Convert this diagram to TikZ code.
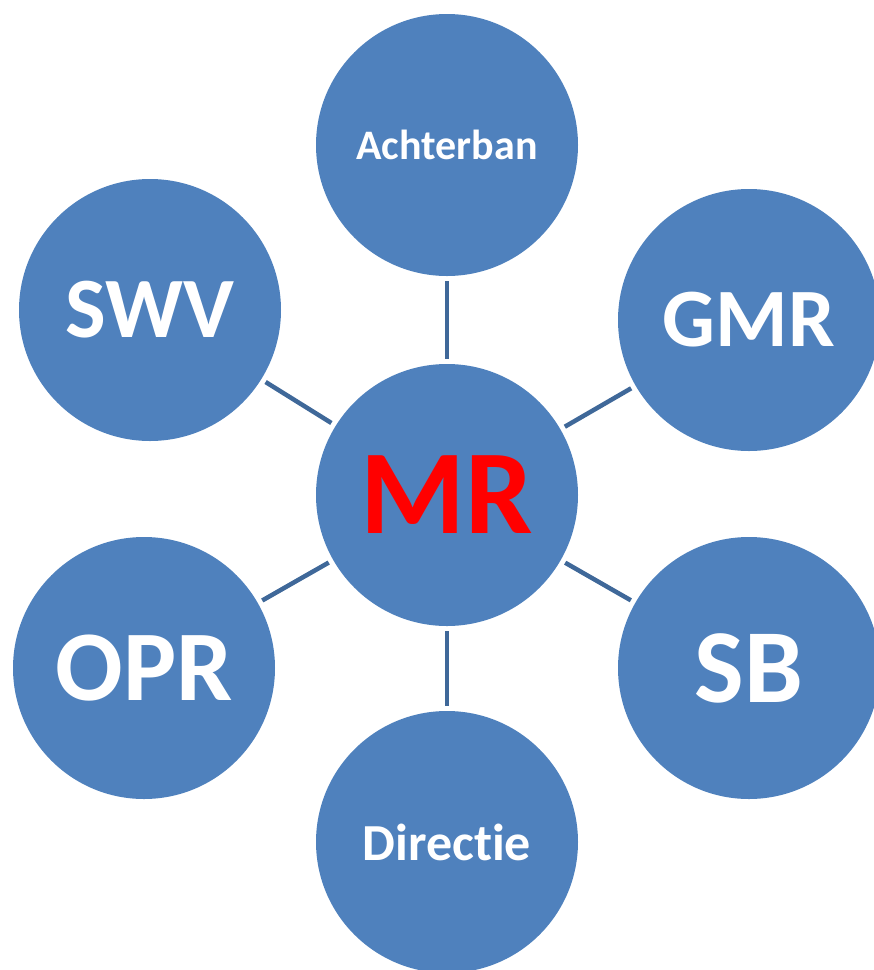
\documentclass[tikz,border=0pt]{standalone}
\usepackage{fontspec}
\setmainfont{Carlito}[Ligatures=NoCommon]
\definecolor{circfill}{HTML}{4F81BD}
\definecolor{linkcol}{HTML}{3F6899}
\definecolor{mrred}{HTML}{FF0000}
\begin{document}
\begin{tikzpicture}[x=1pt,y=-1pt,
  bubble/.style={circle,fill=circfill,draw=none,minimum size=262pt,inner sep=0pt,text=white,font=\bfseries\fontsize{83}{83}\selectfont},
  link/.style={draw=linkcol,line width=4.5pt,shorten <=5pt,shorten >=5pt}]
\useasboundingbox (0,0) rectangle (874,970);
\node[bubble] (mr) at (447,495) {\textcolor{mrred}{\fontsize{120}{120}\selectfont MR}};
\node[bubble,font=\bfseries\fontsize{42}{42}\selectfont] (ach) at (447,145) {Achterban};
\node[bubble] (gmr) at (749,320) {GMR};
\node[bubble,font=\bfseries\fontsize{86}{86}\selectfont] (swv) at (150,310) {SWV};
\node[bubble,font=\bfseries\fontsize{100}{100}\selectfont] (opr) at (144,668) {OPR};
\node[bubble,font=\bfseries\fontsize{105}{105}\selectfont] (sb) at (749,668) {SB};
\node[bubble,font=\bfseries\fontsize{52}{52}\selectfont] (dir) at (447,842) {Directie};
\draw[link] (ach) -- (mr);
\draw[link] (gmr) -- (mr);
\draw[link] (swv) -- (mr);
\draw[link] (opr) -- (mr);
\draw[link] (sb) -- (mr);
\draw[link] (dir) -- (mr);
\end{tikzpicture}
\end{document}
